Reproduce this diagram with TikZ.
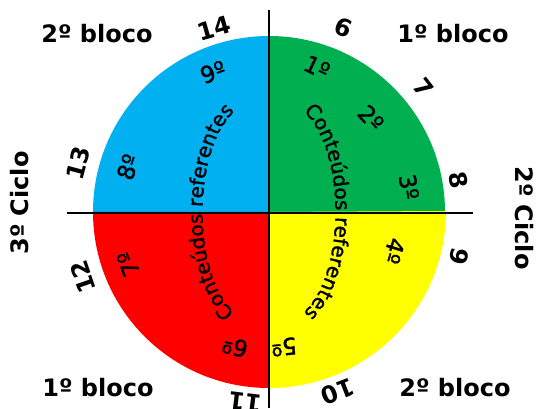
\documentclass[tikz,border=0pt]{standalone}
\usepackage{fontspec}
\setmainfont{DejaVu Sans}
\newfontfamily\innerfont[FakeBold=1.5]{DejaVu Sans}
\usetikzlibrary{decorations.text}
\definecolor{qblue}{RGB}{0,176,240}
\definecolor{qgreen}{RGB}{0,176,80}
\definecolor{qred}{RGB}{255,0,0}
\definecolor{qyellow}{RGB}{255,255,0}
\begin{document}
\begin{tikzpicture}[x=1pt,y=1pt,
  outer/.style={font=\fontsize{24}{28}\selectfont\bfseries, inner sep=0pt},
  num/.style={font=\fontsize{24}{28}\selectfont\bfseries, inner sep=0pt},
  ord/.style={font=\fontsize{23}{26}\selectfont\innerfont, inner sep=0pt},
  axisline/.style={line width=1.6pt, black},
  arctext/.style={decorate, decoration={text along path, text align=center,
     text={|\fontsize{20}{24}\selectfont\innerfont|Conteúdos referentes}}}]
\useasboundingbox (0,0) rectangle (542,408);
\coordinate (O) at (269,196);
% quadrants
\fill[qblue]   (O) -- ++(0,176)  arc[start angle=90,  end angle=180, radius=176] -- cycle;
\fill[qgreen]  (O) -- ++(176,0)  arc[start angle=0,   end angle=90,  radius=176] -- cycle;
\fill[qred]    (O) -- ++(-176,0) arc[start angle=180, end angle=270, radius=176] -- cycle;
\fill[qyellow] (O) -- ++(0,-176) arc[start angle=270, end angle=360, radius=177] -- cycle;
% axes
\coordinate (hl) at (67,195);
\coordinate (hr) at (473,195);
\coordinate (vt) at (269,398);
\coordinate (vb) at (269,0);
\draw[axisline] (hl) -- (hr);
\draw[axisline] (vt) -- (vb);
% curved texts
\path[arctext] (289,306) .. controls (351,281) and (351,111) .. (289,86);
\path[arctext] (249,86) .. controls (187,111) and (187,281) .. (249,306);
% outer labels
\node[outer] (b2tl) at (97,374) {2º bloco};
\node[outer] (b1tr) at (453,374) {1º bloco};
\node[outer] (b1bl) at (98,20) {1º bloco};
\node[outer] (b2br) at (455,20) {2º bloco};
\node[outer, rotate=90]  (c3) at (20,205) {3º Ciclo};
\node[outer, rotate=-90] (c2) at (524,190) {2º Ciclo};
% numbers
\node[num, rotate=16]   (n14) at (214,380) {14};
\node[num, rotate=-22]  (n6)  at (344,380) {6};
\node[num, rotate=-52]  (n7)  at (424,320) {7};
\node[num, rotate=-80]  (n8)  at (459,228) {8};
\node[num, rotate=-103] (n9)  at (459,151) {9};
\node[num, rotate=-159] (n10) at (338,16)  {10};
\node[num, rotate=173]  (n11) at (245,6)   {11};
\node[num, rotate=109]  (n12) at (83,131)  {12};
\node[num, rotate=75]   (n13) at (78,245)  {13};
% ordinals
\node[ord, rotate=-25]  (o1) at (317,341) {1º};
\node[ord, rotate=-48]  (o2) at (371,290) {2º};
\node[ord, rotate=-80]  (o3) at (409,221) {3º};
\node[ord, rotate=-107] (o4) at (394,157) {4º};
\node[ord, rotate=-174] (o5) at (284,61)  {5º};
\node[ord, rotate=166]  (o6) at (235,61)  {6º};
\node[ord, rotate=110]  (o7) at (128,144) {7º};
\node[ord, rotate=72]   (o8) at (128,241) {8º};
\node[ord, rotate=21]   (o9) at (213,336) {9º};
\end{tikzpicture}
\end{document}
